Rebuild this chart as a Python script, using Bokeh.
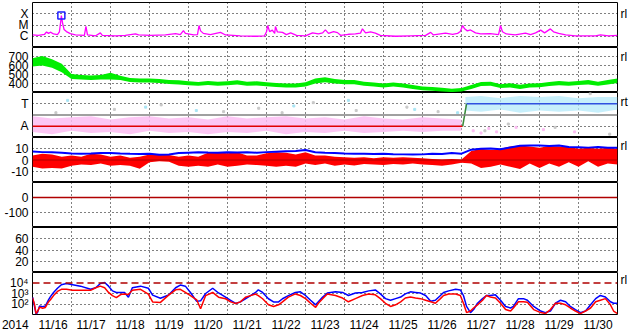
import numpy as np
from bokeh.plotting import figure
from bokeh.layouts import column
from bokeh.models import Range1d, FixedTicker, Span, LinearAxis, LogAxis
from bokeh.embed import file_html
from bokeh.resources import INLINE

# ---------------- data (time in days since 2014-11-16 00:00 UT) ----------------
day_labels = ["11/16", "11/17", "11/18", "11/19", "11/20", "11/21", "11/22", "11/23",
              "11/24", "11/25", "11/26", "11/27", "11/28", "11/29", "11/30"]
year_label = "2014"

# GOES X-ray flux (W/m2)
xray_t = [0.00,0.15,0.31,0.36,0.41,0.46,0.54,0.64,0.69,0.73,
          0.74,0.77,0.81,0.87,0.97,1.10,1.33,1.37,1.41,1.62,
          1.74,1.79,2.13,2.38,2.64,2.72,3.03,3.41,3.67,3.79,
          3.87,3.92,4.13,4.23,4.27,4.31,4.38,4.56,4.82,4.95,
          5.33,5.72,5.95,6.00,6.03,6.08,6.15,6.21,6.23,6.28,
          6.41,6.51,6.62,6.77,7.00,7.18,7.33,7.44,7.51,7.59,
          7.72,7.82,7.90,8.10,8.28,8.41,8.46,8.54,8.67,8.79,
          8.92,9.31,9.69,10.08,10.21,10.28,10.59,10.77,10.90,10.97,
          11.03,11.08,11.15,11.23,11.36,11.49,11.74,11.95,12.00,12.05,
          12.15,12.38,12.64,12.77,12.90,13.03,13.13,13.28,13.36,13.49,
          13.67,13.92,14.18,14.44,14.56,14.77,15.00]
xray_flux = [1.3e-6,1.2e-6,1.5e-6,2.4e-6,1.8e-6,2.3e-6,1.6e-6,1.4e-6,2.5e-6,3.0e-5,
             6.9e-5,1.5e-5,4.0e-6,2.6e-6,1.7e-6,1.3e-6,1.2e-6,7.4e-6,1.3e-6,1.1e-6,
             2.0e-6,1.2e-6,1.1e-6,1.2e-6,1.6e-6,1.3e-6,1.2e-6,1.3e-6,1.7e-6,1.4e-6,
             3.2e-6,1.8e-6,1.3e-6,1.4e-6,9.0e-6,3.0e-6,1.8e-6,1.4e-6,2.2e-6,1.3e-6,
             1.1e-6,1.0e-6,1.1e-6,2.5e-6,9.0e-6,2.6e-6,3.5e-6,1.8e-6,7.4e-6,2.4e-6,
             2.2e-6,1.4e-6,2.0e-6,1.2e-6,1.1e-6,2.0e-6,1.6e-6,2.0e-6,3.7e-6,1.8e-6,
             2.6e-6,2.1e-6,1.2e-6,1.5e-6,1.6e-6,1.9e-6,4.6e-6,2.0e-6,2.4e-6,1.9e-6,
             1.2e-6,1.0e-6,1.1e-6,1.2e-6,2.2e-6,1.3e-6,1.9e-6,1.5e-6,1.8e-6,2.6e-6,
             9.0e-6,4.6e-6,3.0e-6,3.6e-6,2.0e-6,1.6e-6,1.7e-6,1.4e-6,9.0e-6,2.5e-6,
             1.6e-6,1.3e-6,1.9e-6,1.4e-6,2.0e-6,3.5e-6,2.0e-6,4.5e-6,2.5e-6,1.8e-6,
             1.3e-6,1.1e-6,1.1e-6,1.1e-6,1.3e-6,1.1e-6,1.2e-6]
flare_t = [0.74]
flare_flux = [6.9e-5]

# solar wind speed band (km/s), every 6 h
spd_t = np.arange(0, 15.001, 0.25)
spd_lo = [590,600,575,525,450,445,440,445,445,440,
          418,410,410,405,395,390,380,375,382,375,
          380,390,376,378,370,360,356,355,368,400,
          415,400,392,392,375,368,356,366,356,340,
          325,320,310,305,310,340,372,374,350,356,
          340,356,358,372,380,375,382,390,376,390,
          405]
spd_hi = [680,705,670,620,505,495,490,495,520,485,
          462,455,455,450,440,435,425,418,428,420,
          425,435,420,425,415,405,400,400,415,455,
          470,450,440,438,420,412,400,410,400,382,
          368,362,352,342,350,382,418,420,392,402,
          385,400,402,418,428,420,428,438,420,438,
          455]

# IMF sector (A = away = 1, T = toward = 3)
away_t = np.arange(0, 11.01, 0.5)
away_lo = [0.5,0.3,0.6,0.4,0.5,0.3,0.6,0.4,0.5,0.3,0.5,0.4,0.6,0.3,0.5,0.4,0.6,0.4,0.5,0.6,0.5,0.6,0.6]
away_hi = [1.9,1.7,1.8,1.9,1.6,1.8,1.9,1.7,1.8,1.6,1.9,1.7,1.8,1.9,1.7,1.8,1.6,1.9,1.7,1.6,1.8,1.7,1.6]
toward_t = [11.1, 11.5, 12.0, 12.5, 13.0, 13.5, 14.0, 14.5, 15.0]
toward_lo = [2.4, 2.3, 2.5, 2.2, 2.4, 2.3, 2.4, 2.2, 2.5]
toward_hi = [3.6, 3.7, 3.5, 3.7, 3.6, 3.7, 3.5, 3.6, 3.6]
sector_away_t, sector_away_v = [0.0, 11.03], [1, 1]
sector_switch_t, sector_switch_v = [11.03, 11.13], [1, 3]
sector_toward_t, sector_toward_v = [11.13, 15.0], [3, 3]
grey_t = [0.6, 2.1, 3.3, 4.9, 5.8, 6.4, 7.2, 8.3, 9.6, 10.4, 11.6, 12.2, 13.4, 14.3, 14.8]
grey_v = [2.2, 2.5, 2.9, 2.3, 2.6, 2.2, 3.1, 2.4, 2.7, 2.3, 0.6, 1.2, 0.9, 3.9, 0.3]
cyan_t = [0.9, 2.9, 4.2, 6.7, 8.1, 9.8, 10.9]
cyan_v = [3.3, 2.7, 2.4, 2.8, 3.3, 2.5, 2.2]
pink_t = [11.3, 11.5, 11.7, 11.9, 12.4, 13.1, 13.9]
pink_v = [0.6, 0.4, 0.8, 0.5, 0.9, 0.7, 0.5]

# IMF Bt and Bz range (nT), every 6 h
imf_t = np.arange(0, 15.001, 0.25)
bt = [7.5,7.0,6.8,6.5,5.8,5.5,5.8,6.3,6.2,5.8,
      5.5,5.3,5.5,4.6,4.8,6.2,6.5,6.8,6.6,6.5,
      6.8,6.6,6.9,6.5,7.0,7.4,7.8,8.0,8.8,6.9,
      6.5,6.2,5.8,5.6,5.5,5.4,5.5,5.2,5.0,4.9,
      5.0,5.5,5.3,6.2,5.6,9.2,10.0,10.2,9.6,11.2,
      12.6,12.9,12.8,12.5,12.9,11.6,11.4,11.0,11.5,10.8,
      10.9]
bz_lo = [-6,-7.5,-7,-7.5,-5,-4,-4.5,-3,-5,-4.5,
         -5,-7.8,-2,-1,-1.5,-5,-6,-5,-6,-4,
         -6,-5,-4,-4.5,-5,-6,-5,-6,-3,-4.5,
         -3,-5,-4,-4.9,-3.5,-4,-4.5,-3.5,-4,-3,
         -4,-4.5,-5,-4,-2.5,-3,-7,-6,-4,-6,
         -8,-3,-7,-3,-6,-2,-6,-1,-6,-3,
         -4]
bz_hi = [4,5.5,5,3,4,3,5.5,5,3,4,
         2,3,5,5,4.5,3,4,3,6.5,7,
         6,7,4,4,6,7,6.5,5,7,4,
         4,3,2.5,2,2.5,1.5,2.5,2,2.5,2,
         1.5,1,0.5,1,0.5,8,10,9,10,12,
         13,12,11,12.5,12,11.5,10,11,10,11,
         10]

# GOES >2 MeV electron flux (log10 of flux)
e_t = [0.00,0.05,0.09,0.13,0.18,0.26,0.33,0.41,0.46,0.54,
       0.64,0.74,0.87,1.03,1.23,1.49,1.62,1.74,1.85,1.95,
       2.05,2.15,2.26,2.36,2.46,2.56,2.77,2.97,3.08,3.28,
       3.49,3.67,3.79,3.92,4.05,4.21,4.31,4.44,4.62,4.77,
       4.95,5.08,5.21,5.33,5.46,5.59,5.72,5.79,5.90,6.05,
       6.18,6.31,6.41,6.56,6.74,6.87,7.00,7.13,7.26,7.33,
       7.44,7.56,7.77,7.95,8.10,8.28,8.46,8.62,8.79,8.92,
       9.05,9.18,9.31,9.44,9.56,9.69,9.82,9.95,10.08,10.21,
       10.33,10.46,10.54,10.67,10.85,10.97,11.05,11.13,11.23,11.31,
       11.41,11.54,11.64,11.74,11.87,12.00,12.13,12.26,12.33,12.46,
       12.59,12.69,12.85,13.03,13.15,13.28,13.41,13.54,13.67,13.79,
       13.92,14.05,14.18,14.31,14.44,14.56,14.69,14.82,14.90,15.00]
e_blue_log = [2.66,1.8,1.05,1.2,1.8,1.75,1.8,2.4,2.7,3.1,
              3.5,3.84,3.95,3.84,3.7,3.4,3.55,3.95,4.05,3.7,
              3.25,3.1,3.1,3.1,2.65,3.55,3.7,3.5,2.85,2.55,
              2.85,3.55,3.8,3.7,3.1,2.25,2.3,3.0,3.5,3.05,
              2.65,2.35,2.05,2.2,2.5,2.8,3.1,3.35,3.1,2.5,
              2.2,2.2,2.5,2.8,3.1,3.16,2.81,2.36,1.92,2.21,
              2.66,3.04,3.16,3.1,2.81,3.04,3.1,3.25,3.34,2.96,
              2.51,2.36,2.51,2.66,2.96,3.16,3.1,3.04,2.81,2.27,
              2.36,2.81,3.1,3.25,3.4,3.34,2.81,1.77,1.18,1.47,
              2.07,2.51,2.81,2.81,2.87,2.36,1.77,1.62,1.77,2.51,
              2.51,2.36,1.77,1.33,1.18,1.33,2.07,2.36,2.21,1.77,
              1.47,1.18,1.33,1.92,2.51,2.81,2.66,2.21,2.07,2.07]
e_red_log = [2.6,2.0,1.1,1.3,1.7,1.6,1.67,2.2,2.4,2.8,
             3.2,3.4,3.4,3.3,3.3,3.3,3.55,3.7,3.55,3.1,
             2.8,2.6,2.9,2.95,2.9,3.3,3.4,2.95,2.2,2.15,
             2.85,3.35,3.4,3.1,2.8,2.4,1.55,2.8,3.1,2.65,
             2.5,2.2,2.05,2.2,2.65,2.8,2.95,2.8,2.5,1.92,
             1.77,1.92,2.2,2.66,2.96,2.81,2.51,2.07,1.68,2.07,
             2.51,2.96,2.81,2.57,2.21,2.51,2.81,2.96,2.87,2.51,
             2.07,1.77,1.92,2.21,2.57,2.66,2.57,2.51,2.36,2.21,
             2.07,2.51,2.81,2.96,2.96,2.81,2.07,1.18,1.33,1.62,
             1.92,2.36,2.81,2.66,2.57,2.07,1.47,1.33,1.62,2.21,
             2.21,2.16,1.47,1.18,1.09,1.47,2.07,2.07,1.92,1.62,
             1.33,1.09,1.33,1.62,2.21,2.36,2.51,1.92,1.33,1.09]
e_blue = [10 ** v for v in e_blue_log]
e_red = [10 ** v for v in e_red_log]

# ---------------- layout ----------------
FONT = "Liberation Sans"
FS = "12px"
W = 633
DARKRED = "#b00000"
xr = Range1d(0, 15)
day_edges = list(range(1, 15))


def style_axis(ax):
    ax.axis_line_color = None
    ax.major_tick_line_color = None
    ax.minor_tick_line_color = None
    ax.major_tick_in = 0
    ax.major_tick_out = 0
    ax.major_label_text_font = FONT
    ax.major_label_text_font_size = FS
    ax.major_label_text_color = "black"


def panel(h, yr, ticks, labels, grid_ticks, log=False, top=0, bottom=0, xaxis=False,
          side=None):
    p = figure(width=W, height=h, x_range=xr, y_range=yr,
               y_axis_type="log" if log else "linear",
               x_axis_location="below" if xaxis else None,
               output_backend="svg", toolbar_location=None,
               min_border_left=32, min_border_right=16,
               min_border_top=top, min_border_bottom=bottom)
    p.outline_line_color = "black"
    p.outline_line_width = 1
    p.background_fill_color = "white"
    p.border_fill_color = "white"
    ax = p.yaxis[0]
    ax.ticker = FixedTicker(ticks=ticks)
    ax.major_label_overrides = {t: l for t, l in zip(ticks, labels)}
    ax.major_label_standoff = 4
    style_axis(ax)
    if side is not None:
        sy, stext = side
        rax = LogAxis() if log else LinearAxis()
        rax.ticker = FixedTicker(ticks=[sy])
        rax.major_label_overrides = {sy: stext}
        rax.major_label_standoff = 3
        style_axis(rax)
        p.add_layout(rax, "right")
    for g in p.ygrid:
        g.ticker = FixedTicker(ticks=grid_ticks)
        g.grid_line_color = "black"
        g.grid_line_dash = "1 3"
        g.grid_line_width = 1
    for g in p.xgrid:
        g.ticker = FixedTicker(ticks=day_edges)
        g.grid_line_color = "black"
        g.grid_line_dash = "1 3"
        g.grid_line_width = 1
    return p


# 1. X-ray
p1 = panel(47, Range1d(1e-7, 1e-3), [1e-6, 1e-5, 1e-4], ["C", "M", "X"],
           [1e-6, 1e-5, 1e-4], log=True, top=2, side=(1e-4, "rl"))
p1.line(xray_t, xray_flux, color="#ff00ff", line_width=1.3)
p1.scatter(flare_t, flare_flux, marker="square", size=7, fill_color=None,
           line_color="#2020ff", line_width=1.5)

# 2. Solar wind speed
p2 = panel(45, Range1d(300, 800), [400, 500, 600, 700], ["400", "500", "600", "700"],
           [400, 500, 600, 700], side=(700, "rl"))
p2.varea(x=spd_t, y1=spd_lo, y2=spd_hi, fill_color="#00ee00")

# 3. IMF sector
p3 = panel(45, Range1d(0, 4), [1, 3], ["A", "T"], [1, 3], side=(3.2, "rt"))
p3.varea(x=away_t, y1=away_lo, y2=away_hi, fill_color="#fbbdf2", fill_alpha=0.85)
p3.varea(x=toward_t, y1=toward_lo, y2=toward_hi, fill_color="#b4eafa", fill_alpha=0.75)
p3.scatter(grey_t, grey_v, marker="square", size=2, color="#c8c8c8")
p3.scatter(cyan_t, cyan_v, marker="square", size=2, color="#a8e4f4")
p3.scatter(pink_t, pink_v, marker="square", size=2, color="#fbbdf2")
p3.add_layout(Span(location=2, dimension="width", line_color="#808080", line_width=1.5))
p3.line(sector_away_t, sector_away_v, color="#e00000", line_width=1.5)
p3.line(sector_switch_t, sector_switch_v, color="#3a8a3a", line_width=1.5)
p3.line(sector_toward_t, sector_toward_v, color="#3050e0", line_width=1.5)

# 4. IMF Bz / Bt
p4 = panel(45, Range1d(-20, 20), [-10, 0, 10], ["-10", "0", "10"], [-10, 10],
           side=(12.5, "rl"))
p4.varea(x=imf_t, y1=bz_lo, y2=bz_hi, fill_color="#ff0000")
p4.add_layout(Span(location=0, dimension="width", line_color=DARKRED, line_width=1.2))
p4.line(imf_t, bt, color="#0000ff", line_width=2)

# 5. Dst
p5 = panel(45, Range1d(-200, 100), [-100, 0], ["-100", "0"], [-100])
p5.add_layout(Span(location=0, dimension="width", line_color=DARKRED, line_width=1.5))

# 6. Kp-like panel
p6 = panel(45, Range1d(0, 80), [20, 40, 60], ["20", "40", "60"], [20, 40, 60])

# 7. Electron flux
p7 = panel(62, Range1d(10, 1e5), [1e2, 1e3, 1e4], ["10²", "10³", "10⁴"],
           [1e2, 1e3], log=True, bottom=17, xaxis=True, side=(10 ** 4.3, "rl"))
p7.add_layout(Span(location=1e4, dimension="width", line_color=DARKRED,
                   line_width=1.5, line_dash="7 4"))
p7.line(e_t, e_blue, color="#0000ff", line_width=1.5)
p7.line(e_t, e_red, color="#ff0000", line_width=1.5)
xa = p7.xaxis[0]
# first tick carries the year label in front of the first day label
xt = [0.06] + [i + 0.5 for i in range(1, 15)]
xlab = [year_label + "\u00a0\u00a0\u00a0" + day_labels[0]] + day_labels[1:]
xa.ticker = FixedTicker(ticks=xt)
xa.major_label_overrides = {t: l for t, l in zip(xt, xlab)}
xa.major_label_standoff = 3
style_axis(xa)

layout = column(p1, p2, p3, p4, p5, p6, p7, spacing=0)
open("out.html", "w").write(file_html(layout, INLINE))
